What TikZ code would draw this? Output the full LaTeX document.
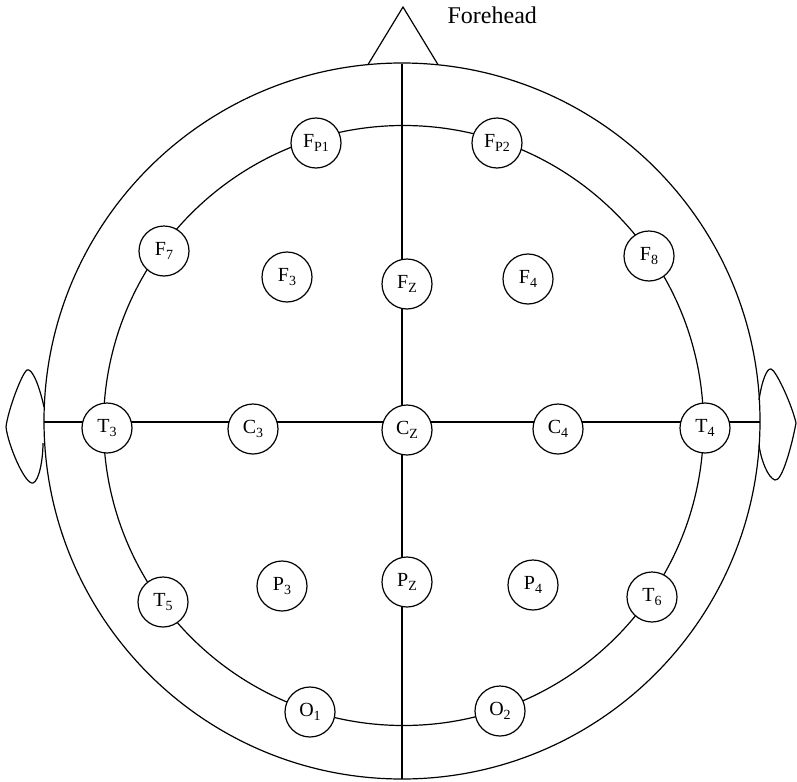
\documentclass[tikz,border=0pt]{standalone}
\usepackage{fontspec}
\setmainfont{Liberation Serif}
\newcommand\elsub[1]{\raisebox{-2.5pt}{\fontsize{10.5}{10.5}\selectfont #1}}
\begin{document}
\begin{tikzpicture}[x=0.75pt,y=-0.75pt,line width=0.9pt,
  electrode/.style={circle,draw,fill=white,minimum size=37.5pt,inner sep=0pt,
    font=\fontsize{15}{15}\selectfont}]
\useasboundingbox (0,0) rectangle (797,782);
% head
\draw (402,421) circle [radius=358];
\draw (403.5,425.5) circle [radius=300];
% nose
\coordinate (noseL) at (368,64.6);
\coordinate (noseT) at (403,7);
\coordinate (noseR) at (438,64.6);
\draw (noseL) -- (noseT) -- (noseR);
% ears
\draw (44,407) .. controls (38,380) and (31,368) .. (27,370)
  .. controls (22,373) and (8,410) .. (6,427)
  .. controls (8,445) and (25,485) .. (33,483)
  .. controls (39,481) and (43,460) .. (43,443);
\draw (759,400) .. controls (762,380) and (767,368) .. (771,369)
  .. controls (776,370) and (792,405) .. (796,423)
  .. controls (792,445) and (782,482) .. (775,480)
  .. controls (768,478) and (761,460) .. (759,445);
% axes
\coordinate (axL) at (44,422);
\coordinate (axR) at (760,422);
\coordinate (axT) at (402,64);
\coordinate (axB) at (402,779);
\draw (axL) -- (axR);
\draw (axT) -- (axB);
% label
\node[anchor=base west,inner sep=0pt,font=\fontsize{18}{18}\selectfont] (fh) at (447,23) {Forehead};
% electrodes
\node[electrode] (Fp1) at (316,143) {F\elsub{P1}};
\node[electrode] (Fp2) at (497,143) {F\elsub{P2}};
\node[electrode] (F7) at (164,251) {F\elsub{7}};
\node[electrode] (F3) at (287,277) {F\elsub{3}};
\node[electrode] (Fz) at (407,284) {F\elsub{Z}};
\node[electrode] (F4) at (528,279) {F\elsub{4}};
\node[electrode] (F8) at (649,256) {F\elsub{8}};
\node[electrode] (T3) at (107,428) {T\elsub{3}};
\node[electrode] (C3) at (253,429) {C\elsub{3}};
\node[electrode] (Cz) at (407,430) {C\elsub{Z}};
\node[electrode] (C4) at (558,429) {C\elsub{4}};
\node[electrode] (T4) at (705,428) {T\elsub{4}};
\node[electrode] (T5) at (163,602) {T\elsub{5}};
\node[electrode] (P3) at (282,586) {P\elsub{3}};
\node[electrode] (Pz) at (407,582) {P\elsub{Z}};
\node[electrode] (P4) at (533,585) {P\elsub{4}};
\node[electrode] (T6) at (652,597) {T\elsub{6}};
\node[electrode] (O1) at (310,712) {O\elsub{1}};
\node[electrode] (O2) at (500,711) {O\elsub{2}};
\end{tikzpicture}
\end{document}
